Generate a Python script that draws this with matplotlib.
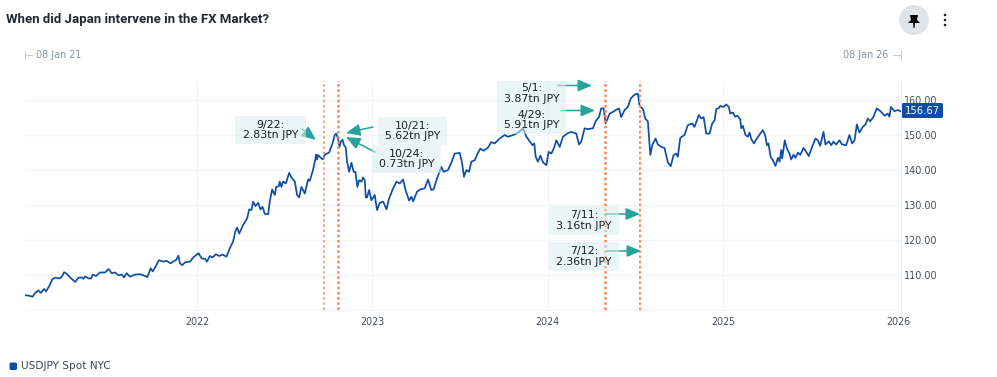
import matplotlib
matplotlib.use("Agg")
import matplotlib.pyplot as plt
from matplotlib.patches import Circle, FancyBboxPatch, Polygon, Rectangle

# Dates as decimal years, prices
years = [
    2021.018, 2021.038, 2021.062, 2021.076, 2021.095, 2021.108, 2021.127, 2021.138, 2021.157, 2021.174,
    2021.190, 2021.218, 2021.228, 2021.241, 2021.256, 2021.275, 2021.304, 2021.323, 2021.342, 2021.351,
    2021.361, 2021.380, 2021.395, 2021.404, 2021.423, 2021.446, 2021.475, 2021.494, 2021.513, 2021.532,
    2021.551, 2021.570, 2021.583, 2021.598, 2021.617, 2021.646, 2021.674, 2021.693, 2021.716, 2021.735,
    2021.746, 2021.760, 2021.782, 2021.807, 2021.826, 2021.849, 2021.868, 2021.879, 2021.893, 2021.902,
    2021.915, 2021.931, 2021.959, 2021.978, 2022.007, 2022.026, 2022.045, 2022.056,
    2022.072, 2022.088, 2022.107, 2022.126, 2022.145, 2022.167, 2022.186, 2022.205, 2022.217, 2022.228,
    2022.240, 2022.262, 2022.285, 2022.297, 2022.310, 2022.319, 2022.333, 2022.348, 2022.361, 2022.373,
    2022.386, 2022.405, 2022.414, 2022.428, 2022.443, 2022.451, 2022.466, 2022.471, 2022.481, 2022.490,
    2022.506, 2022.525, 2022.538, 2022.557, 2022.570, 2022.582, 2022.595, 2022.614, 2022.633, 2022.642,
    2022.661, 2022.675, 2022.678, 2022.684, 2022.690, 2022.703, 2022.718, 2022.728, 2022.753, 2022.772,
    2022.785, 2022.794, 2022.806, 2022.812, 2022.819, 2022.829, 2022.838, 2022.848, 2022.855, 2022.867,
    2022.880, 2022.893, 2022.903, 2022.914, 2022.924, 2022.937, 2022.946, 2022.956, 2022.962, 2022.969,
    2022.981, 2022.994, 2023.013, 2023.026, 2023.042, 2023.061, 2023.080, 2023.095, 2023.118, 2023.137,
    2023.156, 2023.175, 2023.190, 2023.209, 2023.222, 2023.232, 2023.254, 2023.273, 2023.298, 2023.317,
    2023.336, 2023.349, 2023.368, 2023.393, 2023.406, 2023.431, 2023.450, 2023.469, 2023.498, 2023.511,
    2023.522, 2023.536, 2023.551, 2023.564, 2023.583, 2023.602, 2023.615, 2023.634, 2023.659, 2023.678,
    2023.697, 2023.726, 2023.754, 2023.773, 2023.802, 2023.821, 2023.836, 2023.859, 2023.878,
    2023.897, 2023.912, 2023.923, 2023.931, 2023.944, 2023.958, 2023.973, 2023.992, 2024.005, 2024.020,
    2024.034, 2024.049, 2024.068, 2024.087, 2024.110, 2024.134, 2024.163, 2024.178, 2024.191, 2024.210,
    2024.229, 2024.258, 2024.273, 2024.292, 2024.305, 2024.319, 2024.330, 2024.353, 2024.372, 2024.387,
    2024.406, 2024.419, 2024.438, 2024.457, 2024.473, 2024.495, 2024.514, 2024.524, 2024.543, 2024.556,
    2024.571, 2024.585, 2024.596, 2024.615, 2024.628, 2024.647, 2024.666, 2024.685, 2024.701, 2024.718,
    2024.733, 2024.742, 2024.756, 2024.780, 2024.799, 2024.824, 2024.837, 2024.862, 2024.875, 2024.889,
    2024.904, 2024.923,
    2024.938, 2024.952, 2024.961, 2024.976, 2024.984, 2025.003, 2025.018, 2025.033, 2025.041, 2025.056,
    2025.069, 2025.081, 2025.098, 2025.104, 2025.113, 2025.128, 2025.142, 2025.151, 2025.161, 2025.176,
    2025.193, 2025.208, 2025.227, 2025.240, 2025.250, 2025.259, 2025.271, 2025.284, 2025.299, 2025.313,
    2025.322, 2025.332, 2025.337, 2025.352, 2025.364, 2025.379, 2025.389, 2025.402, 2025.413, 2025.427,
    2025.440, 2025.459, 2025.474, 2025.489, 2025.508, 2025.527, 2025.541, 2025.554, 2025.573, 2025.584,
    2025.603, 2025.617, 2025.630, 2025.645, 2025.664, 2025.679, 2025.702, 2025.721, 2025.736, 2025.750,
    2025.763, 2025.778, 2025.797, 2025.812, 2025.826, 2025.839, 2025.858, 2025.877, 2025.902, 2025.921,
    2025.940, 2025.949, 2025.958, 2025.977, 2025.996, 2026.015,
]
usdjpy = [
    104.2, 104.1, 103.8, 104.9, 105.6, 104.9, 106.0, 105.3, 106.9, 108.8,
    109.2, 109.0, 109.5, 110.8, 110.3, 109.3, 108.0, 109.2, 109.3, 108.9,
    109.6, 109.0, 109.0, 110.1, 109.7, 110.7, 110.7, 111.7, 110.5, 110.7,
    109.9, 110.1, 109.3, 110.5, 109.5, 110.1, 110.2, 109.9, 109.4, 111.9,
    111.0, 112.1, 114.2, 113.8, 114.0, 113.3, 114.0, 114.2, 115.5, 113.3,
    112.8, 113.6, 113.8, 115.0, 116.2, 114.7, 114.6, 113.8,
    115.4, 115.0, 115.9, 115.4, 115.8, 115.2, 117.6, 119.5, 122.3, 123.5,
    121.8, 124.2, 126.1, 128.7, 128.5, 130.9, 129.6, 130.6, 128.7, 129.4,
    127.4, 127.3, 130.9, 134.4, 132.8, 135.1, 135.3, 136.6, 135.1, 136.6,
    136.1, 139.1, 137.8, 136.6, 132.8, 132.1, 135.1, 133.2, 137.2, 136.8,
    139.9, 143.2, 144.3, 142.9, 144.2, 143.5, 142.9, 144.3, 144.9, 147.5,
    149.9, 150.3, 148.4, 146.5, 147.9, 148.6, 147.0, 146.3, 142.3, 139.4,
    142.0, 139.4, 139.4, 135.1, 137.0, 136.6, 137.8, 137.0, 132.1, 132.1,
    134.2, 131.3, 132.8, 128.5, 130.6, 130.9, 128.7, 131.8, 134.7, 136.6,
    136.1, 137.2, 134.0, 131.2, 132.3, 131.0, 133.7, 134.4, 134.7, 137.2,
    134.2, 134.4, 137.5, 140.8, 139.4, 139.9, 142.0, 144.6, 144.8, 142.0,
    138.0, 139.9, 139.4, 142.3, 142.7, 144.8, 146.0, 145.4, 146.3, 147.9,
    147.5, 148.9, 149.9, 149.4, 149.9, 150.3, 150.8, 151.8, 149.4,
    148.1, 147.0, 147.5, 143.7, 142.3, 144.0, 142.1, 141.3, 145.1, 144.6,
    146.0, 148.4, 146.5, 149.4, 150.3, 150.8, 150.3, 147.2, 148.0, 151.8,
    151.6, 151.8, 153.8, 155.0, 157.5, 157.5, 153.2, 156.0, 156.5, 157.0,
    157.5, 155.0, 157.0, 157.9, 160.3, 161.4, 161.7, 158.2, 157.3, 154.6,
    153.8, 144.2, 147.0, 148.9, 147.2, 146.5, 146.2, 142.1, 141.0, 144.2,
    144.6, 143.7, 149.1, 149.9, 152.7, 153.2, 152.2, 155.6, 154.6, 155.0,
    150.3, 150.3,
    153.2, 154.1, 157.3, 157.6, 158.2, 157.9, 158.6, 157.9, 156.0, 156.3,
    155.1, 155.4, 154.4, 151.8, 152.5, 149.9, 149.4, 150.6, 148.7, 147.5,
    148.9, 150.0, 151.3, 149.9, 147.0, 147.5, 143.7, 142.7, 141.1, 143.4,
    142.3, 145.6, 143.2, 148.4, 146.1, 144.6, 142.9, 144.3, 143.4, 144.9,
    144.2, 146.2, 145.1, 143.9, 146.5, 148.9, 148.4, 146.8, 150.8, 147.2,
    148.1, 147.0, 148.0, 147.2, 148.4, 147.2, 147.0, 149.9, 147.5, 148.4,
    152.9, 150.6, 152.2, 152.9, 154.6, 153.8, 155.1, 157.5, 156.5, 155.4,
    156.0, 155.1, 157.9, 156.7, 157.0, 156.67,
]
last_value = 156.67

intervention_dates = [2022.723, 2022.803, 2022.811, 2024.325, 2024.331, 2024.526, 2024.528]
year_ticks = [2022, 2023, 2024, 2025, 2026]
price_ticks = [110, 120, 130, 140, 150, 160]

W, H = 997, 377
BLUE = "#0f4ea5"
TEAL = "#26a39b"
ORANGE = "#f5875c"
GRID = "#f3f6f8"


def fx(x):
    return x / W


def fy(y):
    return 1 - y / H


fig = plt.figure(figsize=(W / 100, H / 100), dpi=100)
ax = fig.add_axes([fx(25), fy(310), (901 - 25) / W, (310 - 81) / H])
ax.set_xlim(2021.018, 2026.015)
ax.set_ylim(100, 165.3)

ax.plot(years, usdjpy, color=BLUE, lw=1.25, solid_joinstyle="round", zorder=3)
for d in intervention_dates:
    ax.axvline(d, color=ORANGE, lw=1.1, ls=(0, (1.6, 1.8)), zorder=4)

ax.set_xticks(year_ticks)
ax.set_xticklabels([str(y) for y in year_ticks])
ax.set_yticks(price_ticks)
ax.set_yticklabels([f"{p:.2f}" for p in price_ticks])
ax.yaxis.tick_right()
ax.grid(True, color=GRID, lw=1)
ax.set_axisbelow(True)
ax.tick_params(length=0, labelsize=6.9, labelcolor="#454f5b")
ax.tick_params(axis="x", pad=5)
ax.tick_params(axis="y", pad=2)
for side in ["top", "left"]:
    ax.spines[side].set_visible(False)
ax.spines["bottom"].set_color(GRID)
ax.spines["right"].set_color("#e8edf1")

# Callouts: box (x0, y0, x1, y1) in pixels, text, arrow start and end
callouts = [
    ((235, 116, 306, 144), "9/22:\n2.83tn JPY", (302, 129), (316, 140)),
    ((378, 117, 447, 145), "10/21:\n5.62tn JPY", (373, 127), (346, 133)),
    ((372, 145, 441, 173), "10/24:\n0.73tn JPY", (375, 152), (346, 137)),
    ((497, 81, 566, 106), "5/1:\n3.87tn JPY", (558, 85.5), (592, 85.5)),
    ((497, 106, 566, 134), "4/29:\n5.91tn JPY", (561, 110.5), (595, 110.5)),
    ((549, 206, 619, 235), "7/11:\n3.16tn JPY", (605, 214), (640, 214)),
    ((549, 242, 619, 271), "7/12:\n2.36tn JPY", (607, 251), (641, 251)),
]
for (x0, y0, x1, y1), label, start, end in callouts:
    fig.patches.append(Rectangle((fx(x0), fy(y1)), (x1 - x0) / W, (y1 - y0) / H,
                                 transform=fig.transFigure, fc="#d9eeee", ec="none",
                                 alpha=0.55, zorder=5))
    fig.text(fx((x0 + x1) / 2), fy((y0 + y1) / 2), label, ha="center", va="center",
             fontsize=7.9, color="#1c2126", linespacing=1.12, zorder=6)
    ann = ax.annotate("", xy=(fx(end[0]), fy(end[1])), xytext=(fx(start[0]), fy(start[1])),
                      xycoords="figure fraction", textcoords="figure fraction",
                      arrowprops=dict(arrowstyle="-|>,head_length=0.85,head_width=0.36", color=TEAL,
                                      lw=1.1, shrinkA=0, shrinkB=0), zorder=7, annotation_clip=False)

# Title and chrome around the chart
fig.text(fx(6), fy(20), "When did Japan intervene in the FX Market?", fontsize=9.5,
         fontweight="bold", family="Roboto", color="#1f2933", va="center")
fig.text(fx(36), fy(55), "08 Jan 21", fontsize=6.9, color="#8595a3", va="center")
fig.text(fx(888), fy(55), "08 Jan 26", fontsize=6.9, color="#8595a3", va="center", ha="right")
for xs, ys in [((25, 25), (51, 59)), ((25, 32), (55, 55)), ((901, 901), (51, 59)), ((893, 901), (55, 55))]:
    fig.add_artist(plt.Line2D([fx(x) for x in xs], [fy(y) for y in ys], color="#c5ced6", lw=0.7))

fig.add_artist(Circle((914 / 100, (H - 20) / 100), 15 / 100, transform=fig.dpi_scale_trans,
                      fc="#dfe4e8", ec="none"))
pin = [(910, 15), (918, 15), (917, 20), (920, 23), (915, 23), (914.5, 28), (913.5, 28), (913, 23), (908, 23), (911, 20)]
fig.add_artist(Polygon([(fx(x), fy(y)) for x, y in pin], transform=fig.transFigure, fc="black", ec="none"))
for y in [15, 20, 25]:
    fig.add_artist(Circle((945 / 100, (H - y) / 100), 1.3 / 100, transform=fig.dpi_scale_trans,
                          fc="#222222", ec="none"))

# Last value flag
fig.add_artist(FancyBboxPatch((902 / 100, (H - 118) / 100), 41 / 100, 15 / 100,
                              boxstyle="round,pad=0,rounding_size=0.015",
                              transform=fig.dpi_scale_trans, fc=BLUE, ec="none"))
fig.text(fx(922.5), fy(110.5), f"{last_value:.2f}", color="white", fontsize=7.2,
         fontweight="medium", ha="center", va="center")

# Legend
fig.add_artist(FancyBboxPatch((9.5 / 100, (H - 370) / 100), 7.5 / 100, 7.5 / 100,
                              boxstyle="round,pad=0,rounding_size=0.015",
                              transform=fig.dpi_scale_trans, fc=BLUE, ec="none"))
fig.text(fx(21), fy(366), "USDJPY Spot NYC", fontsize=7.6, color="#3f4954", va="center")

fig.savefig("out.png", dpi=100)
